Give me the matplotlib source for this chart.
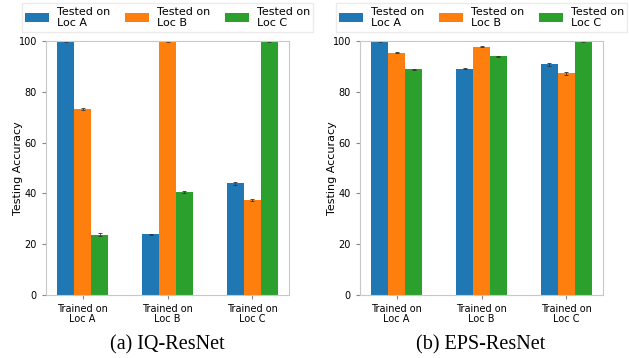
import numpy as np
import matplotlib.pyplot as plt

groups = ['Trained on\nLoc A', 'Trained on\nLoc B', 'Trained on\nLoc C']
series = ['Tested on\nLoc A', 'Tested on\nLoc B', 'Tested on\nLoc C']
colors = ['#1f77b4', '#ff7f0e', '#2ca02c']

# rows: trained location, columns: tested location
iq_acc = np.array([[99.8, 73.2, 23.8],
                   [23.9, 99.8, 40.6],
                   [44.0, 37.4, 99.7]])
iq_err = np.array([[0.2, 0.5, 0.6],
                   [0.2, 0.2, 0.3],
                   [0.5, 0.2, 0.2]])
eps_acc = np.array([[99.8, 95.4, 88.9],
                    [89.1, 97.7, 93.9],
                    [90.8, 87.3, 99.7]])
eps_err = np.array([[0.2, 0.3, 0.2],
                    [0.3, 0.2, 0.2],
                    [0.5, 0.5, 0.2]])
captions = ['(a) IQ-ResNet', '(b) EPS-ResNet']

W, H = 629, 358
fig = plt.figure(figsize=(W / 100, H / 100), dpi=100)

panels = [(46, iq_acc, iq_err), (360, eps_acc, eps_err)]
x = np.arange(len(groups))
width = 0.2

for i, (left, acc, err) in enumerate(panels):
    ax = fig.add_axes([left / W, 1 - 295 / H, 243 / W, 254 / H])
    for j in range(3):
        ax.bar(x + (j - 1) * width, acc[:, j], width, yerr=err[:, j],
               color=colors[j], capsize=1.5,
               error_kw=dict(elinewidth=0.6, capthick=0.6, ecolor='#333333'),
               label=series[j])
    ax.set_ylim(0, 100)
    ax.set_xticks(x)
    ax.set_xticklabels(groups, fontsize=7, linespacing=1.05)
    ax.tick_params(axis='y', labelsize=7, length=3, color='#888888')
    ax.tick_params(axis='x', length=3, color='#888888')
    ax.set_ylabel('Testing Accuracy', fontsize=8)
    ax.yaxis.set_label_coords(-0.095, 0.5)
    for s in ax.spines.values():
        s.set_color('#c8c8c8')
    ax.legend(loc='lower center', bbox_to_anchor=(0.5, 1.015), ncol=3, fontsize=8,
              frameon=True, edgecolor='#e6e6e6', fancybox=False, handlelength=2.2,
              handleheight=0.9, columnspacing=1.3, borderpad=0.3, labelspacing=0.2,
              handletextpad=0.7)
    fig.text((left + 121) / W, 1 - 345 / H, captions[i], ha='center', va='center',
             fontsize=14.5, family='Liberation Serif')

plt.savefig('out.png', dpi=100)
